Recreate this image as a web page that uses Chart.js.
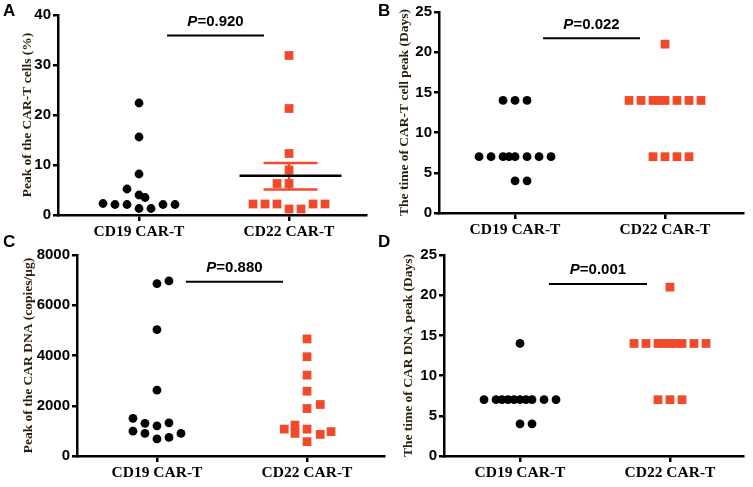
<!DOCTYPE html>
<html>
<head>
<meta charset="utf-8">
<script src="https://cdn.jsdelivr.net/npm/chart.js@4"></script>
<style>
  body { margin: 0; background: #fff; }
  #wrap { position: relative; width: 753px; height: 487px; overflow: hidden; }
  canvas { position: absolute; }
  .tag { position: absolute; font: bold 17px 'Liberation Sans', Arial, sans-serif; color: #000; }
</style>
</head>
<body>
<div id="wrap">
  <canvas id="panelA" width="376" height="240" style="left:0;top:0"></canvas>
  <canvas id="panelB" width="377" height="240" style="left:376px;top:0"></canvas>
  <canvas id="panelC" width="392" height="247" style="left:0;top:240px"></canvas>
  <canvas id="panelD" width="377" height="247" style="left:376px;top:240px"></canvas>
  <div class="tag" style="left:3px;top:1px">A</div>
  <div class="tag" style="left:378px;top:1px">B</div>
  <div class="tag" style="left:3px;top:232px">C</div>
  <div class="tag" style="left:378px;top:232px">D</div>
</div>
<script>
// group labels on the x axis
const groups = ['CD19 CAR-T', 'CD22 CAR-T'];

// A: peak of CAR-T cells (%)  -- values + swarm slot (column offset)
const aCd19 = [22.4, 15.6, 8.2, 5.2, 4.0, 3.5, 2.3, 2.1, 2.1, 2.1, 2.1, 1.3, 1.3];
const aCd19Slot = [0, 0, 0, -1, 0, 0.5, -3, -2, -1, 2, 3, 0, 1];
const aCd22 = [31.9, 21.3, 12.3, 9.0, 6.3, 6.3, 2.2, 2.2, 2.2, 2.2, 2.2, 1.2, 1.2];
const aCd22Slot = [0, 0, 0, 0, -1, 0, -3, -2, -1, 2, 3, 0, 1];
const aCd22Mean = 7.85;
const aCd22Sem = [5.1, 10.4];

// B: time of CAR-T cell peak (days)
const bCd19 = [14, 14, 14, 7, 7, 7, 7, 7, 7, 7, 7, 4, 4];
const bCd19Slot = [-1, 0, 1, -3, -2, -1, -0.5, 0, 1, 2, 3, 0, 1];
const bCd22 = [21, 14, 14, 14, 14, 14, 14, 14, 14, 7, 7, 7, 7];
const bCd22Slot = [0, -3, -2, -1, -0.5, 0, 1, 2, 3, -1, 0, 1, 2];

// C: peak of CAR DNA (copies/ug)
const cCd19 = [6970, 6860, 5030, 2620, 1500, 1300, 1200, 1320, 990, 900, 900, 740, 680];
const cCd19Slot = [1, 0, 0, 0, -2, -1, 0, 1, -2, -1, 2, 1, 0];
const cCd22 = [4660, 3950, 3220, 2580, 1890, 2050, 1070, 1230, 900, 1070, 860, 970, 570];
const cCd22Slot = [0, 0, 0, 0, 0, 1.1, -1.9, -1, -1, 0, 1.1, 2, 0];

// D: time of CAR DNA peak (days)
const dCd19 = [14, 7, 7, 7, 7, 7, 7, 7, 7, 7, 7, 4, 4];
const dCd19Slot = [0, -3, -2, -1.5, -1, -0.5, 0, 0.5, 1, 2, 3, 0, 1];
const dCd22 = [21, 14, 14, 14, 14, 14, 14, 14, 14, 14, 7, 7, 7];
const dCd22Slot = [0, -3, -2, -1, -0.5, 0, 0.5, 1, 2, 3, -1, 0, 1];

// p-values and the bracket height they sit on
const pLabels = ['0.920', '0.022', '0.880', '0.001'];
const pHeights = [35.9, 21.75, 6940, 21.4];

const SLOT = 0.08;          // one swarm column in x units
const RED = '#f04a2a';
const TITLE_COLOR = '#2a1e0c';

/* --- p-value text above the bracket --- */
const pTextPlugin = {
    id: 'pText',
    afterDatasetsDraw(chart, args, opts) {
        const ctx = chart.ctx;
        const x = chart.scales.x.getPixelForValue(opts.xMid);
        const y = chart.scales.y.getPixelForValue(opts.yVal) - 9.5;
        ctx.save();
        ctx.fillStyle = '#000';
        ctx.textBaseline = 'alphabetic';
        const italic = 'italic bold 15px "Liberation Sans", Arial, sans-serif';
        const plain = 'bold 15px "Liberation Sans", Arial, sans-serif';
        ctx.font = italic;
        const wP = ctx.measureText('P').width;
        ctx.font = plain;
        const rest = '=' + opts.text;
        const wR = ctx.measureText(rest).width;
        let x0 = x - (wP + wR) / 2;
        ctx.font = italic;
        ctx.fillText('P', x0, y);
        ctx.font = plain;
        ctx.fillText(rest, x0 + wP, y);
        ctx.restore();
    }
};

function points(vals, slots, center) {
    return vals.map((v, i) => ({ x: center + slots[i] * SLOT, y: v }));
}

function segment(x1, x2, y1, y2, color, width) {
    return {
        type: 'line',
        data: [{ x: x1, y: y1 }, { x: x2, y: y2 }],
        borderColor: color,
        borderWidth: width,
        pointRadius: 0,
        showLine: true,
        order: 0
    };
}

function buildPanel(id, p) {
    const datasets = [
        {
            data: points(p.cd19, p.cd19Slot, 0),
            pointStyle: 'circle',
            pointRadius: 4.4,
            backgroundColor: '#000',
            borderWidth: 0,
            order: 1
        },
        {
            data: points(p.cd22, p.cd22Slot, 1),
            pointStyle: 'rect',
            pointRadius: 6.2,
            backgroundColor: RED,
            borderWidth: 0,
            order: 1
        },
        segment(p.pX[0], p.pX[1], p.pY, p.pY, '#000', 2)
    ];
    (p.extra || []).forEach(d => datasets.push(d));

    const axisGrid = { drawOnChartArea: false, drawTicks: true, tickLength: 6, lineWidth: 2.5, color: '#000' };
    const axisBorder = { display: true, width: 2.5, color: '#000' };

    new Chart(document.getElementById(id), {
        type: 'scatter',
        data: { datasets },
        options: {
            responsive: false,
            animation: false,
            devicePixelRatio: 1,
            layout: { padding: { top: p.top, right: p.right, left: 0, bottom: 0 } },
            plugins: {
                legend: { display: false },
                tooltip: { enabled: false },
                pText: { xMid: (p.pX[0] + p.pX[1]) / 2, yVal: p.pY, text: p.pText }
            },
            scales: {
                x: {
                    type: 'linear',
                    min: p.xMin,
                    max: p.xMax,
                    afterBuildTicks: s => { s.ticks = [{ value: 0 }, { value: 1 }]; },
                    afterFit: s => { s.height = p.xH; },
                    ticks: {
                        callback: v => groups[v],
                        autoSkip: false,
                        maxRotation: 0,
                        padding: 2,
                        color: '#000',
                        font: { family: '"Liberation Serif", "Times New Roman", serif', weight: 'bold', size: 15.5 }
                    },
                    grid: axisGrid,
                    border: axisBorder
                },
                y: {
                    min: 0,
                    max: p.yMax,
                    afterFit: s => { s.width = p.yW; },
                    ticks: {
                        stepSize: p.yStep,
                        padding: 2,
                        color: '#000',
                        callback: v => String(v),
                        font: { family: '"Liberation Sans", Arial, sans-serif', weight: 'bold', size: 15 }
                    },
                    grid: { ...axisGrid, tickLength: 5 },
                    border: axisBorder,
                    title: {
                        display: true,
                        text: p.yTitle,
                        color: TITLE_COLOR,
                        padding: { top: p.titlePad, bottom: 0 },
                        font: { family: '"Liberation Serif", "Times New Roman", serif', weight: 'bold', size: 13.5 }
                    }
                }
            }
        },
        plugins: [pTextPlugin]
    });
}

document.addEventListener('DOMContentLoaded', () => {
    // A
    buildPanel('panelA', {
        cd19: aCd19, cd19Slot: aCd19Slot, cd22: aCd22, cd22Slot: aCd22Slot,
        yMax: 40, yStep: 10, xMin: -0.54, xMax: 1.513,
        yTitle: 'Peak of the CAR-T cells (%)', titlePad: 19,
        top: 15, right: 10, yW: 58, xH: 25,
        pX: [0.187, 0.833], pY: pHeights[0], pText: pLabels[0],
        extra: [
            segment(0.67, 1.35, aCd22Mean, aCd22Mean, '#000', 2.5),
            segment(0.83, 1.19, aCd22Sem[1], aCd22Sem[1], RED, 2.5),
            segment(0.83, 1.19, aCd22Sem[0], aCd22Sem[0], RED, 2.5),
            segment(1, 1, aCd22Sem[0], aCd22Sem[1], RED, 2.5)
        ]
    });
    // B
    buildPanel('panelB', {
        cd19: bCd19, cd19Slot: bCd19Slot, cd22: bCd22, cd22Slot: bCd22Slot,
        yMax: 25, yStep: 5, xMin: -0.507, xMax: 1.52,
        yTitle: 'The time of CAR-T cell peak (Days)', titlePad: 20.5,
        top: 12, right: 10, yW: 63, xH: 27,
        pX: [0.187, 0.833], pY: pHeights[1], pText: pLabels[1]
    });
    // C
    buildPanel('panelC', {
        cd19: cCd19, cd19Slot: cCd19Slot, cd22: cCd22, cd22Slot: cCd22Slot,
        yMax: 8000, yStep: 2000, xMin: -0.533, xMax: 1.513,
        yTitle: 'Peak of the CAR DNA (copies/\u03bcg)', titlePad: 20,
        top: 15, right: 8, yW: 77, xH: 31,
        pX: [0.193, 0.84], pY: pHeights[2], pText: pLabels[2]
    });
    // D
    buildPanel('panelD', {
        cd19: dCd19, cd19Slot: dCd19Slot, cd22: dCd22, cd22Slot: dCd22Slot,
        yMax: 25, yStep: 5, xMin: -0.507, xMax: 1.487,
        yTitle: 'The time of CAR DNA peak (Days)', titlePad: 24,
        top: 15, right: 10, yW: 68, xH: 31,
        pX: [0.193, 0.847], pY: pHeights[3], pText: pLabels[3]
    });
});
</script>
</body>
</html>
